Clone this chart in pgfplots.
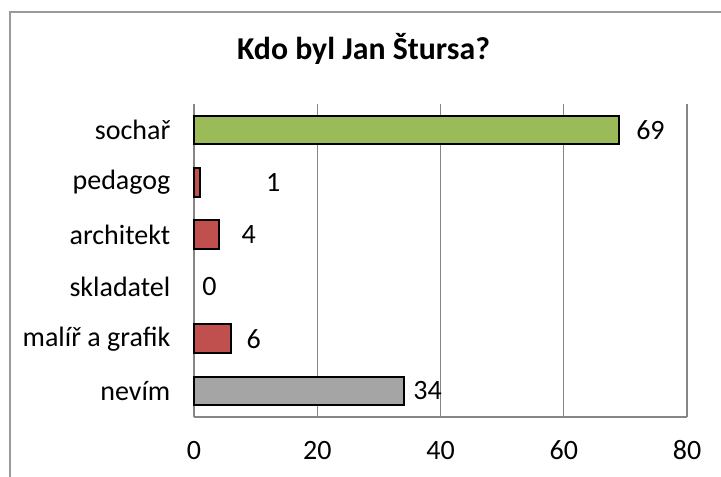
\documentclass[border=0pt]{standalone}
\usepackage{pgfplots}
\pgfplotsset{compat=1.18}
\usepackage{fontspec}
\setmainfont{Carlito}
\definecolor{bargreen}{HTML}{9BBB59}
\definecolor{barred}{HTML}{C0504D}
\definecolor{bargray}{HTML}{A5A5A5}
\definecolor{gridgray}{HTML}{868686}
\definecolor{framegray}{HTML}{9A9A9A}
\begin{document}
\begin{tikzpicture}
\useasboundingbox (0,0) rectangle (360.5pt,238pt);
\draw[framegray, line width=0.8pt] (5pt,-5pt) -- (5pt,232pt) -- (370pt,232pt);
\node[font=\fontsize{15.9}{19}\selectfont\bfseries] at (181.75pt,213.5pt) {Kdo byl Jan Štursa?};
\begin{axis}[
  at={(97pt,29.5pt)}, anchor=south west,
  scale only axis, width=246.5pt, height=156.5pt,
  xmin=0, xmax=80, ymin=-0.5, ymax=5.5,
  xtick={0,20,40,60,80},
  ytick={0,1,2,3,4,5},
  yticklabels={nevím, malíř a grafik, skladatel, architekt, pedagog, sochař},
  axis lines*=left,
  axis line style={gridgray, line width=0.65pt},
  xmajorgrids,
  major grid style={gridgray, line width=0.65pt},
  major tick length=0pt,
  tick label style={font=\fontsize{14}{17}\selectfont},
  /pgf/number format/assume math mode=true,
  xticklabel style={yshift=-8.4pt},
  yticklabel style={xshift=-8.3pt},
  clip=false,
]
\addplot[xbar, bar shift=0pt, bar width=0.55, fill=bargreen, draw=black, line width=1pt]
  coordinates {(69,5)};
\addplot[xbar, bar shift=0pt, bar width=0.55, fill=barred, draw=black, line width=1pt]
  coordinates {(1,4) (4,3) (6,1)};
\addplot[xbar, bar shift=0pt, bar width=0.55, fill=bargray, draw=black, line width=1pt]
  coordinates {(34,0)};
\addplot[only marks, mark=none, point meta=explicit symbolic,
  nodes near coords,
  every node near coord/.append style={anchor=center, font=\fontsize{14}{17}\selectfont}]
  coordinates {(74.07,5) [69] (12.86,4) [1] (8.89,3) [4] (2.51,2) [0] (9.68,1) [6] (37.9,0) [34]};
\end{axis}
\end{tikzpicture}
\end{document}
